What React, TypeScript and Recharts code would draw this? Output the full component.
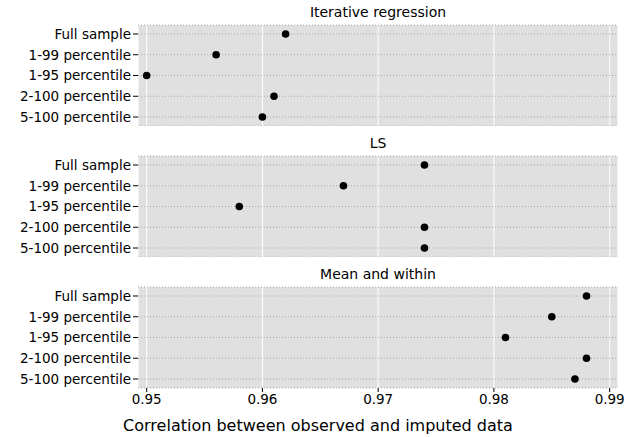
import React from 'react';
import { ScatterChart, Scatter, XAxis, YAxis, CartesianGrid, Label } from 'recharts';

const categories = ['Full sample', '1-99 percentile', '1-95 percentile', '2-100 percentile', '5-100 percentile'];
const iterativeValues = [0.962, 0.956, 0.95, 0.961, 0.96];
const lsValues = [0.974, 0.967, 0.958, 0.974, 0.974];
const meanWithinValues = [0.988, 0.985, 0.981, 0.988, 0.987];
const panelTitles = ['Iterative regression', 'LS', 'Mean and within'];
const xTicks = [0.95, 0.96, 0.97, 0.98, 0.99];
const yTicks = [1, 2, 3, 4, 5];

const panelValues = [iterativeValues, lsValues, meanWithinValues];
const FONT = '"DejaVu Sans", Verdana, sans-serif';

const plotTops = [25, 156, 287];
const LEFT = 138;
const RIGHT_M = 17;

const Dot = (props: any) => {
  const { cx, cy } = props;
  if (cx == null || cy == null) return null;
  return <circle cx={cx} cy={cy} r={3.8} fill="#000" />;
};

function Panel({ idx }: { idx: number }) {
  const data = categories.map((c, i) => ({ name: c, x: panelValues[idx][i], y: i + 1 }));
  const isLast = idx === 2;
  const chartTop = plotTops[idx] - 25;
  const height = isLast ? 437 - chartTop : 126;
  const xAxisH = isLast ? height - 126 : 0;
  return (
    <div style={{ position: 'absolute', left: 0, top: chartTop, width: 635, height }}>
      <ScatterChart width={635} height={height} margin={{ top: 25, right: RIGHT_M, bottom: 0, left: 0 }}>
        <CartesianGrid horizontal={false} vertical={true} stroke="#ffffff" strokeWidth={1} fill="#e0e0e0" fillOpacity={1} />
        <CartesianGrid horizontal={true} vertical={false} stroke="#999" strokeDasharray="1 2" strokeWidth={0.8} fill="none" />
        <XAxis
          type="number"
          dataKey="x"
          domain={[0.94925, 0.99072]}
          ticks={xTicks}
          allowDataOverflow
          hide={!isLast}
          height={xAxisH}
          axisLine={false}
          tickLine={{ stroke: '#000' }}
          tickSize={4}
          tickMargin={2}
          tick={{ fontSize: 13.5, fill: '#000', fontFamily: FONT }}
          tickFormatter={(v: number) => v.toFixed(2)}
        >
          {isLast && (
            <Label
              value="Correlation between observed and imputed data"
              position="insideBottom"
              offset={6}
              dx={-60}
              style={{ fontSize: 16, fill: '#000', fontFamily: FONT }}
            />
          )}
        </XAxis>
        <YAxis
          type="number"
          dataKey="y"
          domain={[0.567, 5.433]}
          ticks={yTicks}
          reversed
          allowDataOverflow
          width={LEFT}
          axisLine={false}
          tickLine={{ stroke: '#000' }}
          tickSize={5}
          tickMargin={2}
          interval={0}
          tick={{ fontSize: 13.5, fill: '#000', fontFamily: FONT }}
          tickFormatter={(v: number) => categories[v - 1] ?? ''}
        />
        <Scatter data={data} shape={Dot} isAnimationActive={false} />
      </ScatterChart>
      <div
        style={{
          position: 'absolute',
          left: LEFT,
          width: 635 - LEFT - RIGHT_M,
          top: 3,
          textAlign: 'center',
          fontFamily: FONT,
          fontSize: 14,
          lineHeight: '18px',
          color: '#000',
        }}
      >
        {panelTitles[idx]}
      </div>
    </div>
  );
}

export default function App() {
  return (
    <div style={{ position: 'absolute', left: 0, top: 0, width: 635, height: 437, background: '#fff' }}>
      {[0, 1, 2].map((i) => (
        <Panel key={i} idx={i} />
      ))}
    </div>
  );
}
